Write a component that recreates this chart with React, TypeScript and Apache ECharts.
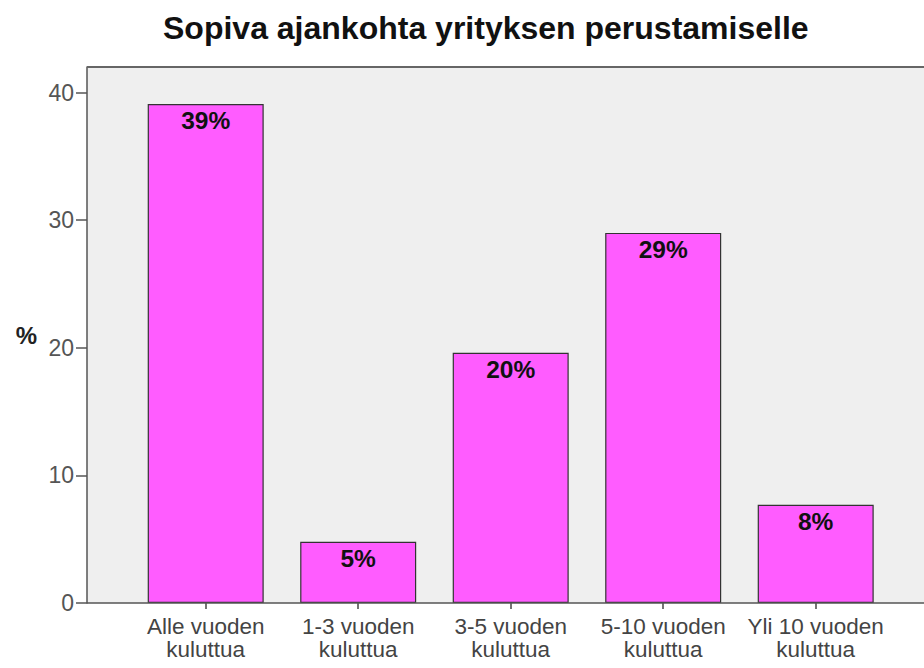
import React, { useEffect, useRef } from "react";
import * as echarts from "echarts";

const titleText = "Sopiva ajankohta yrityksen perustamiselle";
const categories = [
  "Alle vuoden\nkuluttua",
  "1-3 vuoden\nkuluttua",
  "3-5 vuoden\nkuluttua",
  "5-10 vuoden\nkuluttua",
  "Yli 10 vuoden\nkuluttua",
];
const percentValues = [39.1, 4.8, 19.6, 29.0, 7.7];
const yTickValues = [0, 10, 20, 30, 40];
const yAxisName = "%";

const FONT = "'Liberation Sans', Arial, sans-serif";

export default function App() {
  const ref = useRef<HTMLDivElement>(null);
  useEffect(() => {
    if (!ref.current) return;
    const chart = echarts.init(ref.current, null, { renderer: "svg" });
    const plotLeft = 87;
    const plotTop = 67;
    const plotBottom = 603;
    const plotRight = 924;
    chart.setOption({
      animation: false,
      backgroundColor: "#ffffff",
      title: {
        text: titleText,
        left: 163,
        top: 12,
        padding: 0,
        textStyle: {
          fontFamily: FONT,
          fontSize: 32,
          fontWeight: "bold",
          color: "#111",
        },
      },
      grid: {
        left: 129.45,
        right: 32.05,
        top: plotTop,
        bottom: 668 - plotBottom,
        containLabel: false,
      },
      graphic: [
        {
          type: "rect",
          z: -10,
          shape: { x: plotLeft, y: plotTop, width: plotRight - plotLeft, height: plotBottom - plotTop },
          style: { fill: "#efefef" },
          silent: true,
        },
        {
          type: "line",
          z: 100,
          shape: { x1: plotLeft, y1: plotTop, x2: plotRight, y2: plotTop },
          style: { stroke: "#666", lineWidth: 2 },
          silent: true,
        },
        {
          type: "line",
          z: 100,
          shape: { x1: plotLeft, y1: plotBottom, x2: plotRight, y2: plotBottom },
          style: { stroke: "#555", lineWidth: 1.5 },
          silent: true,
        },
      ],
      xAxis: {
        type: "category",
        data: categories,
        axisLine: { show: false },
        axisTick: {
          show: true,
          alignWithLabel: true,
          length: 6,
          lineStyle: { color: "#444", width: 1.5 },
        },
        axisLabel: {
          interval: 0,
          margin: 12,
          fontFamily: FONT,
          fontSize: 22.5,
          lineHeight: 23,
          color: "#444",
        },
        splitLine: { show: false },
      },
      yAxis: {
        type: "value",
        min: 0,
        max: 42,
        offset: 42.45,
        name: yAxisName,
        nameLocation: "middle",
        nameRotate: 0,
        nameGap: 50,
        nameTextStyle: {
          fontFamily: FONT,
          fontSize: 24,
          fontWeight: "bold",
          color: "#222",
        },
        axisLine: { show: true, lineStyle: { color: "#555", width: 1.5 } },
        axisTick: {
          show: true,
          length: 11,
          customValues: yTickValues,
          lineStyle: { color: "#555", width: 1.5 },
        },
        axisLabel: {
          margin: 13,
          customValues: yTickValues,
          fontFamily: FONT,
          fontSize: 23,
          color: "#555",
        },
        splitLine: { show: false },
      },
      series: [
        {
          type: "bar",
          data: percentValues,
          barWidth: 116,
          itemStyle: {
            color: "#ff5cff",
            borderColor: "#333",
            borderWidth: 1.2,
          },
          label: {
            show: true,
            position: "insideTop",
            distance: 4,
            fontFamily: FONT,
            fontSize: 24.5,
            fontWeight: "bold",
            color: "#111",
            formatter: (p: any) => Math.round(p.value) + "%",
          },
        },
      ],
    });
    return () => chart.dispose();
  }, []);
  return <div ref={ref} style={{ width: 924, height: 668, position: "absolute", left: 0, top: 0 }} />;
}
